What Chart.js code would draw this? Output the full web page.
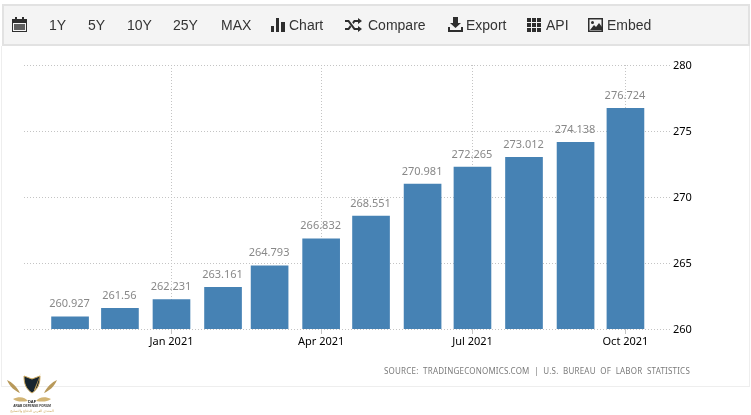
<!DOCTYPE html>
<html>
<head>
<meta charset="utf-8">
<title>Chart</title>
<script src="https://cdn.jsdelivr.net/npm/chart.js@4"></script>
<style>
    html, body { margin: 0; padding: 0; background: #fff; }
    body { position: relative; width: 751px; height: 415px; overflow: hidden; font-family: "Liberation Sans", Arial, sans-serif; }
    #panel { position: absolute; left: 1px; top: 46px; width: 749px; height: 341px; border: 1px solid #eeeeee; border-top: 0; box-sizing: border-box; }
    #toolbar { position: absolute; left: 2px; top: 4px; width: 748px; height: 42px; background: #f4f4f4; border: 2px solid #e2e2e2; box-sizing: border-box; }
    #chart { position: absolute; left: 0; top: 0; }
    .btn { position: absolute; top: 17px; font-size: 14px; line-height: 16px; color: #333; white-space: nowrap; }
    .icon { position: absolute; fill: #2e2e2e; }
    #source { position: absolute; left: 384px; top: 365px; font-family: "Noto Sans", sans-serif; font-size: 8px; line-height: 12px; letter-spacing: 0.2px; word-spacing: 2.3px; color: #7b7b7b; white-space: nowrap; }
    #logo { position: absolute; left: 5px; top: 372px; }
</style>
</head>
<body>
<div id="panel"></div>
<div id="toolbar"></div>
<canvas id="chart" width="751" height="415" style="width:751px;height:415px"></canvas>

<svg class="icon" style="left:12px;top:17px" width="15" height="15" viewBox="0 0 15 15"><path d="M0 2h3V0h2v2h5V0h2v2h3v13H0zM1 6v8h13V6z"/><path d="M2 7h11v6H2z" opacity=".75"/></svg>
<span class="btn" style="left:49px">1Y</span>
<span class="btn" style="left:88px">5Y</span>
<span class="btn" style="left:127px">10Y</span>
<span class="btn" style="left:173px">25Y</span>
<span class="btn" style="left:221px">MAX</span>
<svg class="icon" style="left:271px;top:18px" width="14" height="14" viewBox="0 0 14 14"><path d="M0 8h3v6H0zM5 0h3v14H5zM10 4h4v10h-4z"/></svg>
<span class="btn" style="left:289px">Chart</span>
<svg class="icon" style="left:345px;top:18px" width="17" height="14" viewBox="0 0 17 14"><path d="M0 2h4l6 8h3V8l4 3-4 3v-2H9L3 4H0zM0 10h3l2-2.700 1.300 1.700L4 12H0zM13 0l4 3-4 3V4h-3L8.500 6 7.200 4.300 9 2h4z"/></svg>
<span class="btn" style="left:368px">Compare</span>
<svg class="icon" style="left:448px;top:17px" width="15" height="15" viewBox="0 0 15 15"><path d="M5 0h5v6h3l-5.500 5L2 6h3zM0 10h2v3h11v-3h2v5H0z"/></svg>
<span class="btn" style="left:466px">Export</span>
<svg class="icon" style="left:527px;top:18px" width="14" height="14" viewBox="0 0 14 14"><path d="M0 0h4v4H0zM5 0h4v4H5zM10 0h4v4h-4zM0 5h4v4H0zM5 5h4v4H5zM10 5h4v4h-4zM0 10h4v4H0zM5 10h4v4H5zM10 10h4v4h-4z"/></svg>
<span class="btn" style="left:546px">API</span>
<svg class="icon" style="left:588px;top:18px" width="15" height="14" viewBox="0 0 15 14"><path fill-rule="evenodd" d="M0 0h15v14H0zM1.500 1.500v11h12v-11z"/><path d="M2 12l4-5 2 2 3-4 3 4v3z"/><circle cx="4.500" cy="4.500" r="1.500"/></svg>
<span class="btn" style="left:607px">Embed</span>

<div id="source">SOURCE: TRADINGECONOMICS.COM | U.S. BUREAU OF LABOR STATISTICS</div>

<svg id="logo" width="54" height="42" viewBox="0 0 54 42">
    <path d="M19 4l8 3 8-3c0 8-2 13-8 17-6-4-8-9-8-17z" fill="#16242e" stroke="#c9a65c" stroke-width="1"/>
    <path d="M36 1l-7 17 1 1z" fill="#c9a65c"/>
    <path d="M2 8c5 2 10 7 13 13-5-2-10-6-13-13zM52 8c-5 2-10 7-13 13 5-2 10-6 13-13z" fill="#b8995a"/>
    <path d="M8 27c6-3 12-2 15 2-6 1-11 1-15-2zM46 27c-6-3-12-2-15 2 6 1 11 1 15-2z" fill="#d2b474"/>
    <text x="27" y="30.500" text-anchor="middle" font-family="Liberation Sans" font-weight="bold" font-size="4" fill="#222">DAF</text>
    <text x="27" y="35" text-anchor="middle" font-family="Liberation Sans" font-weight="bold" font-size="3.200" fill="#333">ARAB DEFENSE FORUM</text>
    <text x="27" y="40" text-anchor="middle" font-family="DejaVu Sans" font-size="3.400" fill="#c9a65c">المنتدى العربي للدفاع والتسليح</text>
</svg>

<script>
const months = ['2020-11-01', '2020-12-01', '2021-01-01', '2021-02-01', '2021-03-01', '2021-04-01',
    '2021-05-01', '2021-06-01', '2021-07-01', '2021-08-01', '2021-09-01', '2021-10-01'];
const values = [260.927, 261.56, 262.231, 263.161, 264.793, 266.832,
    268.551, 270.981, 272.265, 273.012, 274.138, 276.724];
const tickDates = ['2021-01-01', '2021-04-01', '2021-07-01', '2021-10-01'];
const tickLabels = ['Jan 2021', 'Apr 2021', 'Jul 2021', 'Oct 2021'];

// x axis is linear in days so the bars sit unevenly like real months
function toDays(date) {
    return (new Date(date) - new Date(months[0])) / 86400000;
}

const valueLabels = {
    id: 'valueLabels',
    afterDatasetsDraw(chart) {
        const ctx = chart.ctx;
        ctx.save();
        ctx.font = '11px "Noto Sans"';
        ctx.fillStyle = '#888888';
        ctx.textAlign = 'center';
        ctx.textBaseline = 'bottom';
        chart.getDatasetMeta(0).data.forEach((bar, i) => {
            ctx.fillText(String(values[i]), bar.x - 0.5, bar.y - 7);
        });
        ctx.restore();
    }
};

new Chart(document.getElementById('chart'), {
    type: 'bar',
    data: {
        datasets: [{
            data: months.map((m, i) => ({ x: toDays(m), y: values[i] })),
            backgroundColor: '#4682b4',
            barThickness: 37
        }]
    },
    options: {
        responsive: false,
        animation: false,
        layout: { padding: { left: 24, top: 65, right: 0, bottom: 0 } },
        plugins: { legend: { display: false }, tooltip: { enabled: false } },
        scales: {
            x: {
                type: 'linear',
                offset: false,
                min: -27.7,
                max: 362,
                afterBuildTicks(scale) {
                    scale.ticks = tickDates.map(d => ({ value: toDays(d) }));
                },
                afterFit(scale) { scale.height = 86; },
                grid: { offset: false, color: '#c4c4c4', tickLength: 5, tickColor: '#c4c4c4' },
                border: { display: false, dash: [1, 2] },
                ticks: {
                    autoSkip: false,
                    maxRotation: 0,
                    padding: 1,
                    color: '#000',
                    font: { family: '"Noto Sans"', size: 11 },
                    callback(value) {
                        return tickLabels[tickDates.findIndex(d => toDays(d) === value)];
                    }
                }
            },
            y: {
                position: 'right',
                min: 260,
                max: 280,
                afterFit(scale) { scale.width = 79; },
                grid: { color: '#c4c4c4', drawTicks: false },
                border: { display: false, dash: [1, 2] },
                ticks: {
                    stepSize: 5,
                    padding: 1,
                    labelOffset: 1,
                    color: '#000',
                    font: { family: '"Noto Sans"', size: 11 }
                }
            }
        }
    },
    plugins: [valueLabels]
});
</script>
</body>
</html>
